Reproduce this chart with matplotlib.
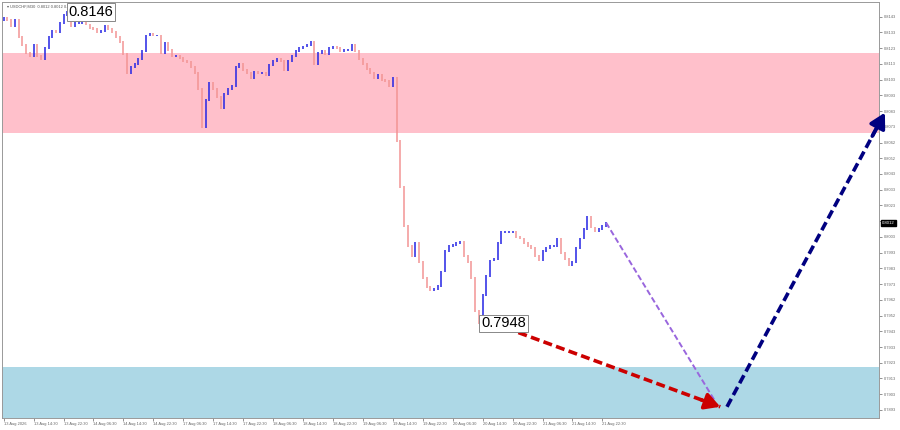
import numpy as np
import matplotlib
matplotlib.use("Agg")
import matplotlib.pyplot as plt

plt.rcParams["font.family"] = ["Liberation Sans", "DejaVu Sans"]

# hourly closes, 13-21 Aug
closes = [
    0.8142, 0.8141, 0.8137, 0.8141, 0.8130, 0.8125, 0.8120, 0.8118, 0.8125, 0.8118,
    0.8116, 0.8123, 0.8130, 0.8134, 0.8133, 0.8139, 0.8144, 0.8146, 0.8137, 0.8139,
    0.8139, 0.8141, 0.8138, 0.8136, 0.8135, 0.8133, 0.8134, 0.8137, 0.8135, 0.8133,
    0.8130, 0.8127, 0.8119, 0.8107, 0.8111, 0.8113, 0.8116, 0.8121, 0.8131, 0.8132,
    0.8131, 0.8131, 0.8120, 0.8126, 0.8122, 0.8118, 0.8118, 0.8117, 0.8115, 0.8114,
    0.8111, 0.8107, 0.8097, 0.8073, 0.8090, 0.8101, 0.8097, 0.8092, 0.8085, 0.8094,
    0.8097, 0.8099, 0.8111, 0.8113, 0.8109, 0.8107, 0.8104, 0.8108, 0.8107, 0.8107,
    0.8106, 0.8112, 0.8115, 0.8116, 0.8115, 0.8109, 0.8115, 0.8118, 0.8121, 0.8123,
    0.8124, 0.8125, 0.8127, 0.8113, 0.8120, 0.8121, 0.8119, 0.8123, 0.8124, 0.8123,
    0.8121, 0.8122, 0.8122, 0.8125, 0.8121, 0.8116, 0.8113, 0.8110, 0.8107, 0.8104,
    0.8106, 0.8103, 0.8102, 0.8099, 0.8104, 0.8064, 0.8035, 0.8010, 0.7997, 0.7991,
    0.7999, 0.7987, 0.7977, 0.7971, 0.7969, 0.7970, 0.7972, 0.7981, 0.7994, 0.7997,
    0.7998, 0.7999, 0.8000, 0.7991, 0.7987, 0.7977, 0.7956, 0.7948, 0.7966, 0.7978,
    0.7988, 0.7989, 0.7999, 0.8006, 0.8006, 0.8006, 0.8006, 0.8003, 0.8002, 0.7999,
    0.7997, 0.7996, 0.7991, 0.7988, 0.7994, 0.7996, 0.7997, 0.7997, 0.8002, 0.7993,
    0.7989, 0.7985, 0.7987, 0.7996, 0.8002, 0.8008, 0.8016, 0.8009, 0.8007, 0.8008,
    0.8010, 0.8012,
]
first_open = 0.8141

# zones
pink_zone = (0.8069, 0.8120)
blue_zone = (0.7870, 0.7920)

# forecast lines (hour index, price)
purple_t = [161, 190]
purple_p = [0.8012, 0.7899]
red_t = [127.5, 191.5]
red_p = [0.7951, 0.7895]
navy_t = [193.3, 235.5]
navy_p = [0.7895, 0.8082]

time_labels = [
    "13 Aug 2026", "13 Aug 14:30", "13 Aug 22:30", "14 Aug 06:30", "14 Aug 14:30",
    "14 Aug 22:30", "17 Aug 06:30", "17 Aug 14:30", "17 Aug 22:30", "18 Aug 06:30",
    "18 Aug 14:30", "18 Aug 22:30", "19 Aug 06:30", "19 Aug 14:30", "19 Aug 22:30",
    "20 Aug 06:30", "20 Aug 14:30", "20 Aug 22:30", "21 Aug 06:30", "21 Aug 14:30",
    "21 Aug 22:30",
]
price_labels = [
    "0.8143", "0.8133", "0.8123", "0.8113", "0.8103", "0.8093", "0.8083", "0.8073",
    "0.8062", "0.8052", "0.8043", "0.8033", "0.8023", "0.8013", "0.8003", "0.7993",
    "0.7983", "0.7973", "0.7962", "0.7952", "0.7943", "0.7933", "0.7923", "0.7913",
    "0.7903", "0.7893",
]

fig = plt.figure(figsize=(9, 4.3), dpi=100)
ax = fig.add_axes([0.002, 0.028, 0.975, 0.968])
ax.set_xlim(-0.5, 234)
ax.set_ylim(0.78879, 0.81525)

ax.axhspan(*pink_zone, color="#ffc0cb", lw=0, zorder=0)
ax.axhspan(*blue_zone, color="#add8e6", lw=0, zorder=0)

# price bars
c = np.array(closes)
o = np.concatenate([[first_open], c[:-1]])
t = np.arange(len(c))
up = c >= o
hi = np.maximum(o, c) + 0.00006
lo = np.minimum(o, c) - 0.00006
ax.vlines(t[up], lo[up], hi[up], color="#2424e4", lw=1.1, zorder=3)
ax.vlines(t[~up], lo[~up], hi[~up], color="#f29494", lw=1.1, zorder=3)

# extreme labels
i_hi = int(np.argmax(c))
i_lo = int(np.argmin(c))
box = dict(boxstyle="square,pad=0.12", fc="white", ec="#888888", lw=0.7)
ax.text(i_hi + 0.3, c[i_hi], "0.8146", fontsize=10.5, ha="left", va="center",
        bbox=box, zorder=6)
ax.text(i_lo + 0.6, c[i_lo], "0.7948", fontsize=10.5, ha="left", va="center",
        bbox=box, zorder=6)

# forecast
ax.plot(purple_t, purple_p, ls=(0, (3, 1.5)), color="#9966dd", lw=1.4, zorder=4)


def dashed_arrow(tt, pp, color, lw):
    ax.plot(tt, pp, ls=(0, (2.5, 1.2)), color=color, lw=lw, zorder=5, clip_on=False,
            solid_capstyle="butt", dash_capstyle="butt")
    ax.annotate("", xy=(tt[1], pp[1]),
                xytext=(tt[1] - (tt[1] - tt[0]) * 0.08, pp[1] - (pp[1] - pp[0]) * 0.08),
                arrowprops=dict(arrowstyle="-|>,head_length=0.9,head_width=0.5",
                                color=color, lw=lw, shrinkA=0, shrinkB=0),
                annotation_clip=False, zorder=5)


dashed_arrow(red_t, red_p, "#cc0000", 2.6)
dashed_arrow(navy_t, navy_p, "#000080", 2.6)

# axes styling
ax.yaxis.tick_right()
ax.set_yticks([0.8143 - 0.001 * k for k in range(len(price_labels))])
ax.set_yticklabels(price_labels)
ax.set_xticks(np.arange(len(time_labels)) * 8)
ax.set_xticklabels(time_labels)
for lab in ax.get_xticklabels():
    lab.set_ha("left")
ax.tick_params(axis="both", labelsize=2.9, colors="#666666", length=2, width=0.5, pad=1)
for s in ax.spines.values():
    s.set_color("#999999")
    s.set_linewidth(0.7)

ax.text(0.006, 0.993, "\u25be USDCHF,M30  0.8012 0.8012 0.8011 0.8012", transform=ax.transAxes,
        fontsize=2.9, color="#555555", ha="left", va="top", zorder=5)

# current price tag
ax.text(1.003, closes[-1], "0.8012", transform=ax.get_yaxis_transform(), fontsize=3.1,
        color="white", ha="left", va="center", clip_on=False,
        bbox=dict(boxstyle="square,pad=0.2", fc="black", ec="black"))

fig.savefig("out.png", dpi=100, facecolor="white")
